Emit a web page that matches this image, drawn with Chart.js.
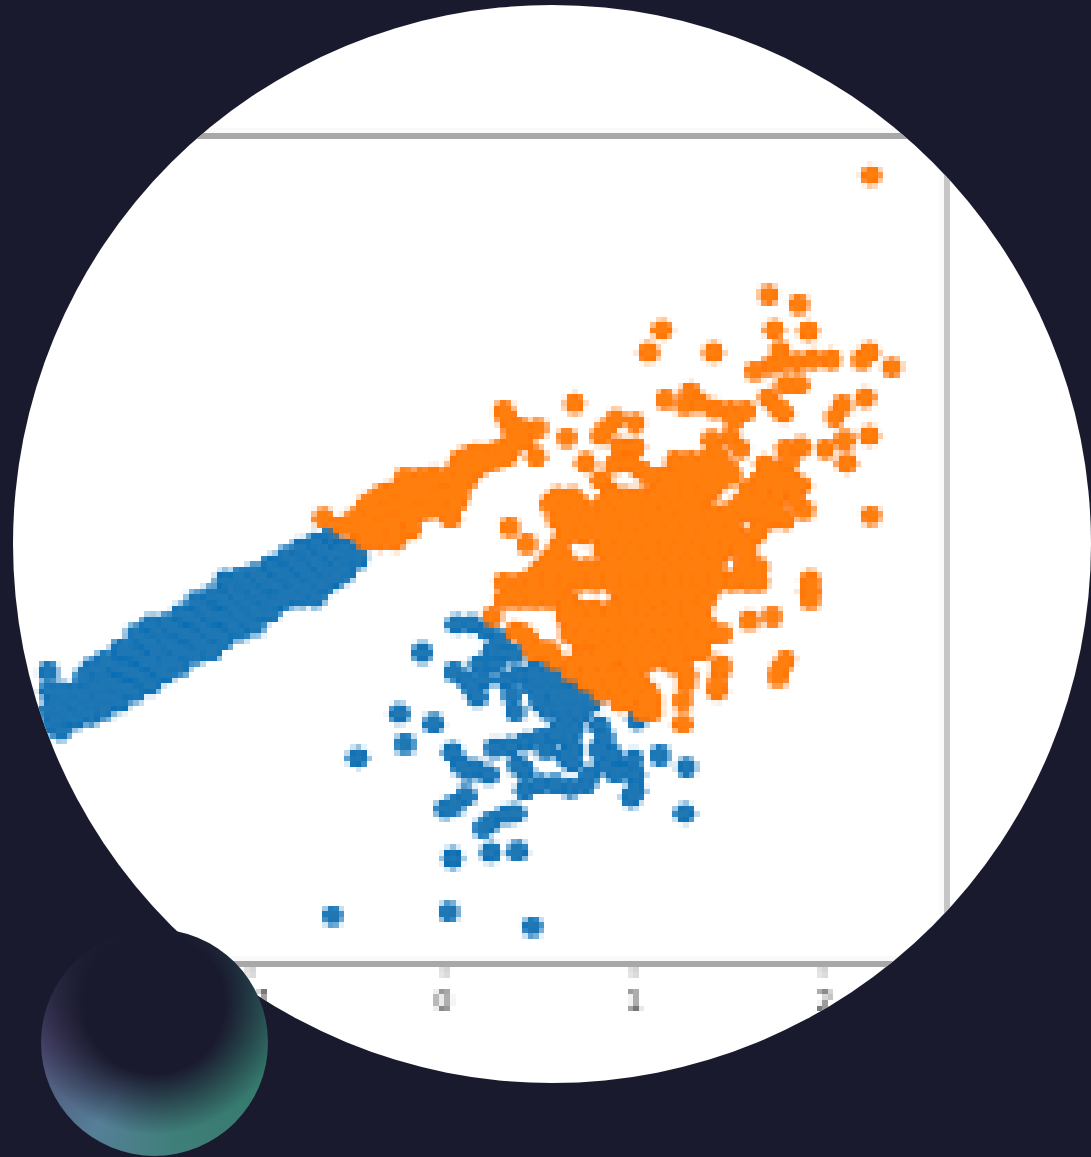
<!DOCTYPE html>
<html>
<head>
<meta charset="utf-8">
<title>scatter</title>
<script src="https://cdn.jsdelivr.net/npm/chart.js@4/dist/chart.umd.min.js"></script>
<style>
    html, body { margin: 0; height: 100%; overflow: hidden; background: #1a1a2e; }
    #lens {
        position: absolute; left: 0; top: 0; width: 1100px; height: 1150px;
        background: #fff;
        clip-path: circle(539px at 552px 544px);
    }
    #graph { image-rendering: pixelated; }
    #orb {
        position: absolute; left: 41px; top: 929px; width: 227px; height: 227px;
        border-radius: 50%;
        background:
            radial-gradient(circle at 50% 33%, #1a1a2e 0%, #1a1a2e 37%, rgba(26,26,46,0) 69%),
            conic-gradient(#1c2a3a 0deg, #2f6a64 70deg, #35796c 110deg, #3f7f7a 170deg, #567f98 215deg, #4d4870 270deg, #25253f 320deg, #1c2a3a 360deg);
    }
</style>
</head>
<body>
<div id="lens"><canvas id="graph"></canvas></div>
<div id="orb"></div>
<script>
const xTicks = [-1, 0, 1, 2];
const xRange = [-2.275, 2.654];
const yRange = [0, 4.356];

// band of blue points, one entry per x: [x, [y, y, ...]]
const blueBand = [
    [-2.076, [1.53]],
    [-2.07, [1.43, 1.33, 1.25]],
    [-2.03, [1.38, 1.28]],
    [-2.01, [1.43, 1.33, 1.22]],
    [-1.97, [1.39, 1.30]],
    [-1.93, [1.43, 1.36, 1.28]],
    [-1.89, [1.50, 1.40, 1.33]],
    [-1.85, [1.55, 1.45, 1.36, 1.30]],
    [-1.81, [1.54, 1.45, 1.38]],
    [-1.78, [1.59, 1.49, 1.40, 1.33]],
    [-1.74, [1.57, 1.47, 1.39]],
    [-1.70, [1.65, 1.55, 1.45, 1.37]],
    [-1.66, [1.64, 1.54, 1.44]],
    [-1.62, [1.73, 1.63, 1.52, 1.42]],
    [-1.58, [1.70, 1.60, 1.50]],
    [-1.54, [1.78, 1.68, 1.58, 1.46]],
    [-1.50, [1.74, 1.64, 1.54]],
    [-1.46, [1.79, 1.69, 1.59, 1.52]],
    [-1.42, [1.76, 1.66, 1.58]],
    [-1.38, [1.84, 1.74, 1.64, 1.56]],
    [-1.34, [1.82, 1.72, 1.63]],
    [-1.30, [1.90, 1.80, 1.70, 1.62]],
    [-1.26, [1.86, 1.76, 1.67]],
    [-1.22, [1.93, 1.83, 1.73, 1.64]],
    [-1.18, [1.92, 1.82, 1.72]],
    [-1.15, [2.01, 1.91, 1.81, 1.70]],
    [-1.11, [1.97, 1.87, 1.77]],
    [-1.07, [2.03, 1.93, 1.83, 1.74]],
    [-1.03, [1.99, 1.89, 1.80]],
    [-0.99, [2.05, 1.95, 1.85, 1.77]],
    [-0.95, [2.02, 1.92, 1.84]],
    [-0.91, [2.09, 1.99, 1.89, 1.84]],
    [-0.87, [2.06, 1.98, 1.90]],
    [-0.83, [2.14, 2.04, 1.94, 1.91]],
    [-0.79, [2.11, 2.01, 1.94]],
    [-0.75, [2.18, 2.08, 1.98, 1.92]],
    [-0.71, [2.14, 2.04, 1.96]],
    [-0.67, [2.21, 2.11, 2.01, 1.92]],
    [-0.63, [2.17, 2.07, 1.98]],
    [-0.59, [2.24, 2.14, 2.04, 2.01]],
    [-0.55, [2.16, 2.08, 2.03]],
    [-0.51, [2.18, 2.12, 2.06]],
    [-0.45, [2.15, 2.12]]
];

const blueCloud = [
    [-0.11,1.63],[-0.23,1.31],[-0.05,1.26],[-0.20,1.15],[-0.45,1.08],[1.28,1.03],[1.27,0.79],
    [0.05,0.55],[0.25,0.58],[0.39,0.59],[-0.58,0.25],[0.03,0.27],[0.47,0.19],[1.14,1.09],[1.02,1.28],
    [0.07,1.78],[0.15,1.78],[0.23,1.75],[0.26,1.64],[0.33,1.63],[0.38,1.62],[0.27,1.57],[0.30,1.70],
    [0.06,1.53],[0.12,1.49],[0.18,1.40],[0.21,1.49],[0.19,1.57],[0.15,1.45],
    [0.33,1.49],[0.36,1.41],[0.38,1.32],[0.40,1.51],
    [0.48,1.54],[0.56,1.53],[0.64,1.49],[0.46,1.46],[0.54,1.45],[0.61,1.43],[0.69,1.42],[0.77,1.41],
    [0.51,1.37],[0.59,1.37],[0.67,1.36],[0.75,1.35],[0.64,1.29],[0.72,1.30],[0.69,1.23],[0.61,1.23],[0.66,1.18],
    [0.50,1.50],[0.58,1.49],[0.50,1.42],[0.58,1.41],[0.65,1.40],[0.72,1.38],[0.62,1.33],[0.70,1.33],[0.78,1.37],[0.55,1.33],[0.47,1.52],
    [0.27,1.13],[0.35,1.14],[0.43,1.16],[0.51,1.18],[0.59,1.20],[0.54,1.12],[0.64,1.09],[0.69,1.12],[0.68,1.05],
    [0.39,1.04],[0.43,1.01],[0.82,1.25],[0.85,1.18],[0.82,1.12],[0.85,1.04],[0.90,1.00],[0.89,1.09],
    [0.05,1.11],[0.09,1.04],[0.17,1.02],[0.24,0.99],[0.13,1.01],
    [0.43,0.91],[0.51,0.94],[0.59,0.94],[0.67,0.92],[0.75,0.94],[0.77,0.99],
    [1.00,1.07],[1.01,0.99],[1.01,0.91],[0.99,0.87],[0.94,1.01],
    [0.01,0.81],[0.06,0.83],[0.12,0.88],[0.21,0.71],[0.25,0.74],[0.33,0.78],[0.38,0.79]
];

// band of orange points, same form as blueBand
const orangeBand = [
    [-0.63, [2.34]],
    [-0.54, [2.30]],
    [-0.50, [2.30]],
    [-0.46, [2.34, 2.28]],
    [-0.41, [2.40, 2.32, 2.26, 2.22]],
    [-0.37, [2.43, 2.36, 2.28]],
    [-0.33, [2.46, 2.38, 2.30, 2.26, 2.22]],
    [-0.29, [2.47, 2.39, 2.31]],
    [-0.25, [2.48, 2.40, 2.32, 2.26, 2.22]],
    [-0.21, [2.50, 2.42, 2.35]],
    [-0.20, [2.55]],
    [-0.17, [2.52, 2.45, 2.37, 2.32, 2.28]],
    [-0.13, [2.52, 2.45, 2.38]],
    [-0.12, [2.55]],
    [-0.09, [2.52, 2.45, 2.38]],
    [-0.05, [2.56, 2.53, 2.46, 2.39]],
    [-0.02, [2.54, 2.46, 2.39]],
    [0.01, [2.54, 2.46, 2.38]],
    [0.04, [2.54, 2.46, 2.38, 2.34]],
    [0.07, [2.60, 2.50, 2.42]],
    [0.09, [2.65, 2.59, 2.52, 2.46]],
    [0.13, [2.66, 2.60, 2.54]],
    [0.17, [2.68, 2.60]],
    [0.21, [2.68, 2.62]],
    [0.25, [2.68, 2.64]],
    [0.29, [2.69, 2.65]],
    [0.32, [2.90]],
    [0.33, [2.70, 2.66]],
    [0.34, [2.85]],
    [0.36, [2.82, 2.75, 2.71]],
    [0.40, [2.81, 2.75]],
    [0.43, [2.80, 2.74]],
    [0.50, [2.81]]
];

// dense orange cloud, one entry per y: [y, [x, x, ...]]
const orangeRows = [
    [2.64, [1.22, 1.30, 1.38, 1.46]],
    [2.60, [1.26, 1.34, 1.42, 1.50, 1.74]],
    [2.56, [1.16, 1.24, 1.32, 1.40, 1.48, 1.52, 1.70, 1.80]],
    [2.53, [1.20, 1.28, 1.36, 1.44, 1.66, 1.72, 1.80]],
    [2.49, [1.14, 1.22, 1.30, 1.38, 1.42, 1.60, 1.68, 1.76, 1.84]],
    [2.45, [0.60, 0.68, 0.88, 0.96, 1.04, 1.12, 1.20, 1.28, 1.36, 1.60, 1.68, 1.76]],
    [2.41, [0.56, 0.64, 0.72, 0.84, 0.92, 1.00, 1.08, 1.16, 1.24, 1.32, 1.56, 1.64, 1.72]],
    [2.37, [0.62, 0.70, 0.78, 0.86, 0.94, 1.02, 1.10, 1.18, 1.26, 1.34, 1.42, 1.50, 1.60, 1.68, 1.76]],
    [2.33, [0.60, 0.68, 0.76, 0.84, 0.92, 1.00, 1.08, 1.16, 1.24, 1.32, 1.40, 1.48, 1.52, 1.72, 1.80]],
    [2.29, [0.64, 0.72, 0.80, 0.88, 0.96, 1.04, 1.12, 1.20, 1.28, 1.36, 1.44, 1.52, 1.66]],
    [2.25, [0.66, 0.74, 0.82, 0.90, 0.98, 1.06, 1.14, 1.22, 1.30, 1.38, 1.46, 1.54, 1.64]],
    [2.21, [0.62, 0.86, 0.94, 1.02, 1.10, 1.18, 1.26, 1.34, 1.42, 1.50, 1.58]],
    [2.17, [0.60, 0.84, 0.92, 1.00, 1.08, 1.16, 1.24, 1.32, 1.40, 1.48, 1.56, 1.60]],
    [2.12, [0.56, 0.64, 0.88, 0.96, 1.04, 1.12, 1.20, 1.28, 1.36, 1.44, 1.60]],
    [2.08, [0.52, 0.60, 0.68, 0.76, 0.84, 0.92, 1.00, 1.08, 1.16, 1.24, 1.32, 1.40, 1.58, 1.66]],
    [2.04, [0.48, 0.56, 0.64, 0.72, 0.80, 0.88, 0.96, 1.04, 1.12, 1.20, 1.28, 1.36, 1.44, 1.56, 1.64]],
    [2.00, [0.32, 0.40, 0.48, 0.56, 0.64, 0.72, 0.80, 0.88, 0.96, 1.04, 1.12, 1.20, 1.28, 1.36, 1.44, 1.52, 1.60, 1.66]],
    [1.95, [0.36, 0.44, 0.52, 0.60, 0.92, 1.00, 1.08, 1.16, 1.24, 1.32, 1.40]],
    [1.91, [0.32, 0.40, 0.48, 0.56, 0.66, 0.96, 1.04, 1.12, 1.20, 1.28, 1.38]],
    [1.86, [0.64, 0.72, 0.80, 0.90, 0.98, 1.06, 1.14, 1.22, 1.30, 1.34]],
    [1.82, [0.26, 0.64, 0.72, 0.80, 0.88, 0.96, 1.04, 1.12, 1.20, 1.28, 1.36]],
    [1.78, [0.68, 0.76, 0.84, 0.92, 1.00, 1.08, 1.16, 1.24, 1.32, 1.38]],
    [1.73, [0.42, 0.66, 0.74, 0.82, 0.90, 0.98, 1.06, 1.14, 1.22, 1.30, 1.38, 1.42, 1.47]],
    [1.69, [0.72, 0.80, 0.88, 0.96, 1.04, 1.12, 1.20, 1.28, 1.36]],
    [1.64, [0.48, 0.56, 0.84, 0.92, 1.00, 1.08, 1.16, 1.24, 1.32, 1.36]],
    [1.60, [0.72, 0.80, 0.88, 0.96, 1.04, 1.12, 1.22]],
    [1.57, [0.68, 0.76, 0.84, 0.98, 1.06, 1.20, 1.26, 1.46]],
    [1.52, [0.76, 0.84, 0.92, 1.00, 1.28]],
    [1.47, [0.80, 0.88, 0.96, 1.04, 1.28, 1.44]],
    [1.42, [0.92, 1.00, 1.08]],
    [1.38, [0.98, 1.06, 1.10, 1.26]],
    [1.32, [1.10]],
    [1.26, [1.26]]
];

const orangeScatter = [
    [2.25,4.14],[1.71,3.51],[1.87,3.46],[1.15,3.33],[1.08,3.21],[1.42,3.21],[1.74,3.33],[1.92,3.32],
    [1.77,3.22],[1.78,3.16],[1.64,3.11],[1.72,3.14],[1.86,3.16],[1.94,3.17],[2.04,3.17],[2.20,3.17],[2.24,3.21],[2.36,3.13],
    [1.80,3.04],[1.87,3.04],[1.71,2.97],[1.76,2.92],[1.79,2.89],[1.17,2.96],[1.30,3.00],[1.27,2.93],[1.35,2.94],
    [1.43,2.91],[1.51,2.90],[1.59,2.90],[1.53,2.85],[2.22,2.97],[2.10,2.93],[2.06,2.87],[2.24,2.77],[2.11,2.75],[2.01,2.70],[2.12,2.63],
    [1.80,2.70],[1.88,2.71],[1.82,2.64],[1.41,2.75],[1.51,2.76],[1.43,2.69],[1.56,2.70],
    [1.69,2.62],[1.75,2.54],[1.83,2.54],[1.88,2.51],[1.77,2.49],[1.85,2.43],[1.90,2.38],
    [2.25,2.35],[1.93,2.01],[1.93,1.96],[1.93,1.91],[1.61,1.80],[1.73,1.82],[1.80,1.59],[1.77,1.54],[1.76,1.50],[1.44,1.43],[1.46,1.54],
    [0.86,2.81],[0.91,2.86],[1.01,2.84],[0.83,2.77],[0.93,2.71],[1.01,2.71],[0.90,2.62],[0.98,2.63],[1.04,2.59],[1.09,2.55],
    [0.83,2.54],[0.88,2.47],[0.75,2.63],[0.35,2.29],[0.44,2.20],[0.49,2.66],[0.65,2.76],[0.69,2.94],
    [0.38,1.74],[0.45,1.70],[0.51,1.64],[0.59,1.59],[0.67,1.53],[0.75,1.48],[0.83,1.42],[0.93,1.37],[1.04,1.32]
];

function fromColumns(list) {
    let pts = [];
    list.forEach(c => c[1].forEach(y => pts.push({ x: c[0], y: y })));
    return pts;
}
function fromRows(list) {
    let pts = [];
    list.forEach(r => r[1].forEach(x => pts.push({ x: x, y: r[0] })));
    return pts;
}
function fromPairs(list) {
    return list.map(p => ({ x: p[0], y: p[1] }));
}

const bluePoints = fromColumns(blueBand).concat(fromPairs(blueCloud));
const orangePoints = fromColumns(orangeBand).concat(fromRows(orangeRows), fromPairs(orangeScatter));

const spine = '#999999';

// each class is drawn twice: a saturated rim below, the flat colour on top
let chart = new Chart(document.getElementById('graph'), {
    type: 'scatter',
    data: {
        datasets: [
            { data: bluePoints, backgroundColor: '#006bb5', borderWidth: 0, pointRadius: 10.5, order: 4 },
            { data: bluePoints, backgroundColor: '#1f77b4', borderWidth: 0, pointRadius: 7.5, order: 3 },
            { data: orangePoints, backgroundColor: '#ff7000', borderWidth: 0, pointRadius: 10.5, order: 2 },
            { data: orangePoints, backgroundColor: '#ff7f0e', borderWidth: 0, pointRadius: 7.5, order: 1 }
        ]
    },
    options: {
        responsive: true,
        maintainAspectRatio: false,
        animation: false,
        devicePixelRatio: 0.18,
        layout: { padding: { left: 0, right: 152, top: 134, bottom: 127 } },
        plugins: { legend: { display: false }, tooltip: { enabled: false } },
        scales: {
            x: {
                type: 'linear', position: 'bottom', min: xRange[0], max: xRange[1],
                afterBuildTicks: s => { s.ticks = xTicks.map(v => ({ value: v })); },
                afterFit: s => { s.height = 60; },
                border: { color: spine, width: 5 },
                grid: { drawOnChartArea: false, drawTicks: true, tickLength: 14, tickColor: spine, tickWidth: 4 },
                ticks: {
                    autoSkip: false, maxRotation: 0, padding: 8, color: '#444444',
                    font: { family: 'DejaVu Sans', size: 28 },
                    callback: v => String(v).replace('-', '\u2212')
                }
            },
            xTop: {
                type: 'linear', position: 'top', min: xRange[0], max: xRange[1],
                afterFit: s => { s.height = 0; },
                border: { color: spine, width: 5 },
                grid: { display: false },
                ticks: { display: false }
            },
            y: { type: 'linear', display: false, min: yRange[0], max: yRange[1] },
            yRight: {
                type: 'linear', position: 'right', min: yRange[0], max: yRange[1],
                afterFit: s => { s.width = 0; },
                border: { color: '#bbbbbb', width: 5 },
                grid: { display: false },
                ticks: { display: false }
            }
        }
    }
});
</script>
</body>
</html>
